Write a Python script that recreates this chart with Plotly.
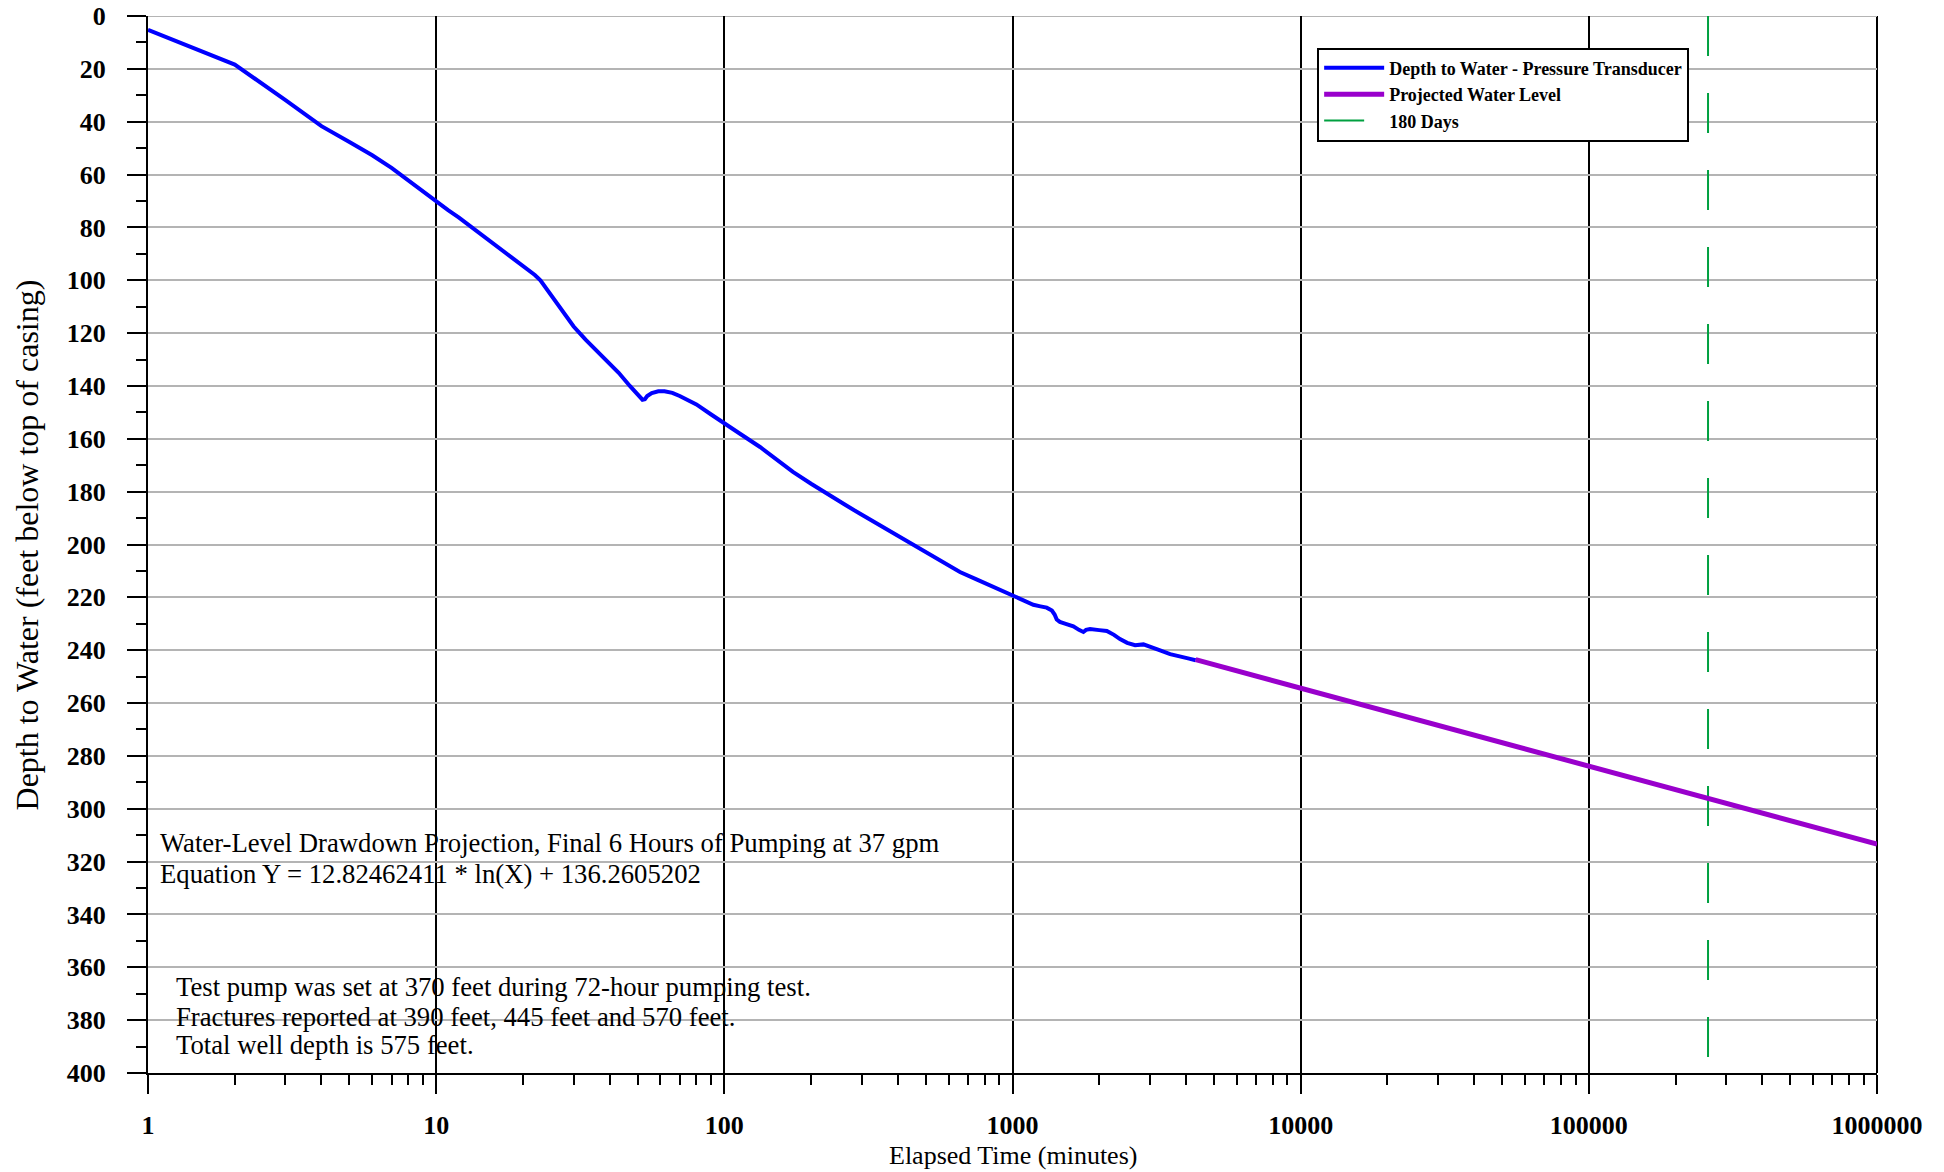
import plotly.graph_objects as go

# Pumping test record: elapsed time (minutes) and depth to water (feet below top of casing)
elapsed_min = [
    1, 2, 3, 4, 5, 6, 7, 8, 9, 10, 11, 12, 14, 16, 18, 19, 20, 22, 23, 25,
    27, 30, 33, 37, 40, 43, 47, 50, 52, 53, 54, 56, 59, 62, 66, 70, 75, 80,
    90, 100, 113, 133, 150, 173, 200, 226, 260, 295, 340, 385, 440, 504, 580,
    657, 750, 858, 1000, 1100, 1181, 1250, 1314, 1370, 1400, 1424, 1460, 1530,
    1626, 1700, 1762, 1800, 1858, 2000, 2125, 2250, 2361, 2500, 2663, 2846,
    3000, 3200, 3524, 3800, 4100, 4320,
]
depth_ft = [
    5.2, 18.4, 31.8, 41.7, 47.7, 52.7, 57.5, 62.2, 66.3, 70.4, 73.5, 76.3,
    81.8, 86.8, 91.2, 93.0, 94.5, 98.0, 100.0, 105.5, 111.0, 117.5, 122.5,
    127.8, 131.2, 135.0, 140.0, 143.2, 145.2, 145.0, 143.8, 142.7, 142.0,
    142.0, 142.6, 143.8, 145.4, 147.0, 150.8, 154.3, 158.0, 163.1, 167.3,
    172.5, 177.0, 180.7, 184.7, 188.3, 192.2, 195.9, 199.6, 203.4, 207.1,
    210.4, 213.2, 216.1, 219.6, 221.5, 222.8, 223.4, 223.9, 225.0, 226.5,
    228.4, 229.3, 230.0, 231.0, 232.3, 233.1, 232.3, 232.0, 232.4, 232.7,
    234.2, 235.8, 237.2, 238.1, 237.8, 238.6, 239.8, 241.5, 242.5, 243.2,
    243.8,
]

# Projected water level (straight line on the log time axis)
proj_min = [4320, 1000000]
proj_depth = [243.6, 313.4]

# 180 days expressed in minutes
day180_min = [259200, 259200]
day180_depth = [0, 400]

x_tick_vals = [1, 10, 100, 1000, 10000, 100000, 1000000]
x_tick_text = ["1", "10", "100", "1000", "10000", "100000", "1000000"]
x_minor_vals = [k * 10 ** n for n in range(6) for k in range(2, 10)]
y_tick_vals = list(range(0, 401, 20))
y_tick_text = [str(v) for v in y_tick_vals]
y_minor_vals = list(range(10, 400, 20))

FONT = "Liberation Serif"

fig = go.Figure()

fig.add_trace(go.Scatter(
    x=day180_min, y=day180_depth, mode="lines", name="180 Days",
    line=dict(color="#00a040", width=2, dash="40px,37px"), legendrank=3,
))
fig.add_trace(go.Scatter(
    x=elapsed_min, y=depth_ft, mode="lines",
    name="Depth to Water - Pressure Transducer",
    line=dict(color="#0000ff", width=4), legendrank=1,
))
fig.add_trace(go.Scatter(
    x=proj_min, y=proj_depth, mode="lines", name="Projected Water Level",
    line=dict(color="#9900cc", width=5), legendrank=2,
))

tick_font = dict(family=FONT, size=26, color="black", weight="bold")

fig.update_xaxes(
    type="log", range=[0, 6], automargin=False,
    tickmode="array", tickvals=x_tick_vals, ticktext=x_tick_text,
    tickfont=tick_font, ticks="outside", ticklen=19, tickwidth=2, tickcolor="black",
    ticklabelstandoff=9,
    showline=True, linecolor="black", linewidth=2,
    showgrid=True, gridcolor="black", gridwidth=2,
    zeroline=False,
    minor=dict(tickmode="array", tickvals=x_minor_vals, ticks="outside",
               ticklen=10, tickwidth=2, tickcolor="black", showgrid=False),
)
fig.update_yaxes(
    range=[400, 0], automargin=False,
    tickmode="array", tickvals=y_tick_vals, ticktext=y_tick_text,
    tickfont=tick_font, ticks="outside", ticklen=19, tickwidth=2, tickcolor="black",
    ticklabelstandoff=16,
    showline=True, linecolor="black", linewidth=2,
    showgrid=True, gridcolor="#b4b4b4", gridwidth=2,
    zeroline=False,
    minor=dict(tickmode="array", tickvals=y_minor_vals, ticks="outside",
               ticklen=10, tickwidth=2, tickcolor="black", showgrid=False),
)

annotations = [
    dict(text="Elapsed Time (minutes)", xref="paper", yref="paper",
         x=0.5, y=-0.078, xanchor="center", yanchor="middle", showarrow=False,
         font=dict(family=FONT, size=26, color="black")),
    dict(text="Depth to Water (feet below top of casing)", xref="paper", yref="paper",
         x=-0.070, y=0.5, xanchor="center", yanchor="middle", textangle=-90,
         showarrow=False, font=dict(family=FONT, size=32, color="black")),
]

note_lines = [
    ("Water-Level Drawdown Projection, Final 6 Hours of Pumping at 37 gpm", 313.1, 10),
    ("Equation Y = 12.82462411 * ln(X) + 136.2605202", 324.8, 10),
    ("Test pump was set at 370 feet during 72-hour pumping test.", 367.6, 26),
    ("Fractures reported at 390 feet, 445 feet and 570 feet.", 378.8, 26),
    ("Total well depth is 575 feet.", 389.5, 26),
]
for text, yv, shift in note_lines:
    annotations.append(dict(
        text=text, xref="paper", yref="y", x=0, y=yv, xanchor="left",
        yanchor="middle", xshift=shift, showarrow=False,
        font=dict(family=FONT, size=26.7, color="black"),
    ))

fig.update_layout(
    width=1944, height=1172,
    margin=dict(l=148, r=67, t=16, b=99),
    paper_bgcolor="white", plot_bgcolor="white",
    font=dict(family=FONT, color="black"),
    showlegend=True,
    legend=dict(
        x=0.6762, y=0.9701, xanchor="left", yanchor="top",
        bgcolor="white", bordercolor="black", borderwidth=2,
        font=dict(family=FONT, size=18, color="black", weight="bold"),
        itemwidth=60,
    ),
    annotations=annotations,
    shapes=[
        dict(type="line", xref="paper", yref="paper", x0=1, x1=1, y0=0, y1=1,
             line=dict(color="black", width=2), layer="below"),
        dict(type="line", xref="paper", yref="y", x0=0, x1=1, y0=0, y1=0,
             line=dict(color="#b4b4b4", width=2), layer="below"),
    ],
)

fig.write_html("out.html")
